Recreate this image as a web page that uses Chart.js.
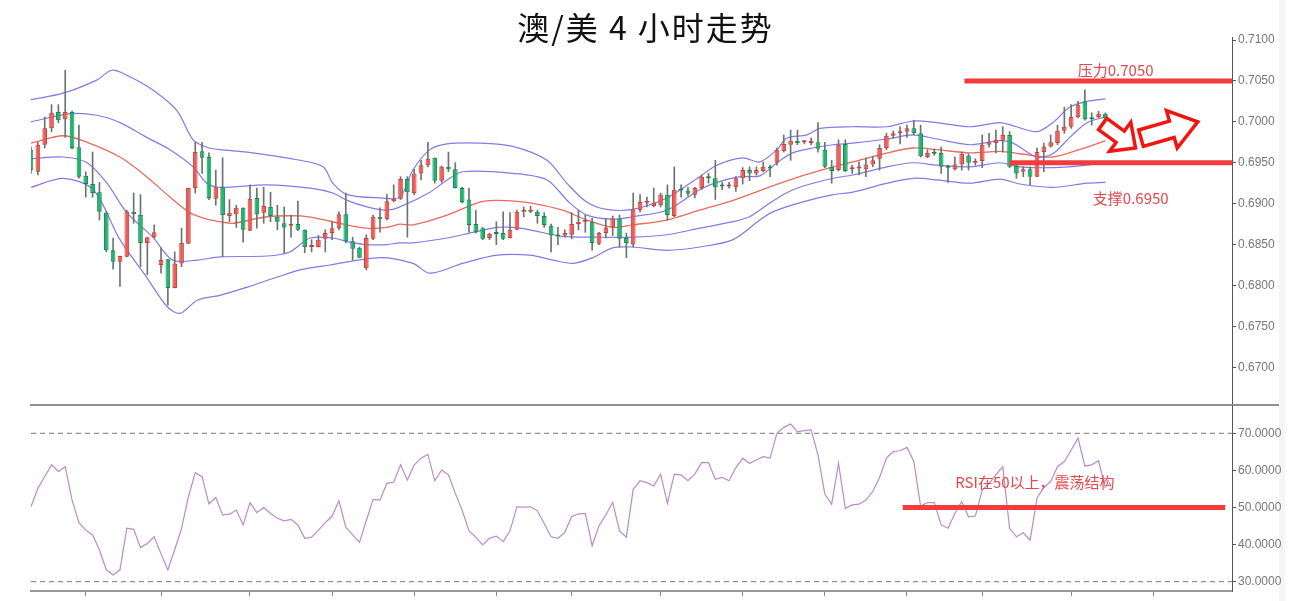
<!DOCTYPE html>
<html>
<head>
<meta charset="utf-8">
<script src="https://cdn.jsdelivr.net/npm/chart.js@4.4.1/dist/chart.umd.min.js"></script>
<style>
html, body { margin: 0; padding: 0; background: #fff; }
#wrap { position: relative; width: 1291px; height: 601px; overflow: hidden; }
#edge { position: absolute; left: 1279px; top: 0; width: 6px; height: 601px; background: #f5f5f5; }
#priceChart { position: absolute; left: 0; top: 0; }
#rsiChart { position: absolute; left: 0; top: 404px; }
</style>
</head>
<body>
<div id="wrap">
  <div id="edge"></div>
  <canvas id="priceChart" width="1291" height="404"></canvas>
  <canvas id="rsiChart" width="1291" height="197"></canvas>
</div>
<script>
// AUD/USD 4H candles, bar 0 is the first (half cut) bar on the left
const openP = [
  .6966, .6939, .6972, .6992, .7012, .7003, .7012, .6969, .6934, .6924,
  .6914, .6889, .6843, .6829, .6835, .6890, .6886, .6852, .6859, .6825,
  .6832, .6797, .6827, .6851, .6919, .6964, .6957, .6906, .6920, .6885,
  .6887, .6895, .6867, .6907, .6889, .6896, .6884, .6876, .6873, .6875,
  .6868, .6847, .6847, .6857, .6864, .6870, .6887, .6854, .6846, .6821,
  .6857, .6884, .6881, .6903, .6906, .6930, .6913, .6937, .6947, .6956,
  .6928, .6945, .6942, .6919, .6905, .6875, .6870, .6858, .6864, .6864,
  .6858, .6868, .6890, .6890, .6890, .6885, .6873, .6861, .6861, .6862,
  .6875, .6878, .6878, .6851, .6864, .6871, .6882, .6858, .6850, .6892,
  .6901, .6897, .6898, .6911, .6885, .6917, .6916, .6911, .6919, .6932,
  .6931, .6922, .6921, .6920, .6931, .6941, .6937, .6940, .6944, .6950,
  .6964, .6972, .6977, .6975, .6974, .6975, .6966, .6945, .6941, .6973,
  .6942, .6943, .6942, .6948, .6955, .6968, .6983, .6986, .6988, .6992,
  .6986, .6957, .6963, .6962, .6945, .6942, .6948, .6959, .6950, .6952,
  .6972, .6974, .6977, .6984, .6946, .6939, .6942, .6933, .6963, .6970,
  .6974, .6989, .6994, .7006, .7025, .7004, .7006, .7010
];
const highP = [
  .6969, .6975, .7006, .7021, .7021, .7063, .7013, .6996, .6939, .6963,
  .6926, .6890, .6858, .6836, .6892, .6913, .6911, .6859, .6874, .6846,
  .6832, .6841, .6870, .6919, .6975, .6975, .6962, .6941, .6956, .6905,
  .6898, .6895, .6923, .6919, .6920, .6914, .6898, .6896, .6886, .6903,
  .6868, .6856, .6861, .6868, .6878, .6890, .6913, .6859, .6847, .6862,
  .6886, .6895, .6911, .6923, .6933, .6933, .6942, .6953, .6975, .6956,
  .6946, .6963, .6950, .6920, .6919, .6892, .6871, .6864, .6878, .6890,
  .6889, .6892, .6896, .6897, .6892, .6889, .6875, .6871, .6868, .6889,
  .6892, .6886, .6882, .6865, .6882, .6885, .6886, .6864, .6913, .6911,
  .6908, .6919, .6913, .6923, .6945, .6923, .6920, .6920, .6935, .6937,
  .6953, .6926, .6926, .6933, .6944, .6945, .6945, .6951, .6947, .6968,
  .6984, .6990, .6990, .6977, .6980, .6999, .6975, .6953, .6978, .6978,
  .6947, .6951, .6956, .6958, .6972, .6986, .6989, .6994, .6996, .7002,
  .6996, .6966, .6967, .6969, .6947, .6957, .6963, .6961, .6955, .6984,
  .6986, .6990, .6994, .6988, .6947, .6945, .6945, .6968, .6974, .6984,
  .6996, .7018, .7021, .7025, .7039, .7011, .7013, .7011
];
const lowP = [
  .6937, .6935, .6968, .6988, .6999, .6981, .6967, .6931, .6908, .6908,
  .6880, .6841, .6820, .6799, .6835, .6876, .6823, .6813, .6858, .6815,
  .6776, .6797, .6823, .6851, .6913, .6937, .6905, .6898, .6835, .6878,
  .6871, .6853, .6867, .6870, .6876, .6878, .6868, .6840, .6859, .6867,
  .6840, .6841, .6847, .6841, .6856, .6868, .6852, .6831, .6834, .6819,
  .6856, .6865, .6880, .6902, .6905, .6859, .6911, .6929, .6945, .6925,
  .6926, .6939, .6919, .6901, .6865, .6864, .6856, .6856, .6850, .6856,
  .6858, .6868, .6884, .6889, .6876, .6871, .6841, .6850, .6859, .6857,
  .6868, .6865, .6843, .6850, .6858, .6861, .6847, .6834, .6847, .6890,
  .6896, .6896, .6896, .6880, .6884, .6908, .6909, .6907, .6917, .6925,
  .6905, .6917, .6919, .6915, .6924, .6928, .6935, .6939, .6933, .6947,
  .6963, .6953, .6972, .6973, .6972, .6963, .6944, .6925, .6940, .6939,
  .6937, .6935, .6933, .6945, .6941, .6966, .6980, .6973, .6981, .6984,
  .6957, .6956, .6959, .6937, .6926, .6941, .6941, .6941, .6947, .6944,
  .6969, .6962, .6963, .6944, .6931, .6933, .6923, .6933, .6939, .6969,
  .6972, .6986, .6992, .7005, .7002, .6996, .7005, .7001
];
const closeP = [
  .6941, .6972, .6992, .7011, .7002, .7012, .6968, .6933, .6924, .6913,
  .6890, .6843, .6829, .6836, .6890, .6887, .6852, .6859, .6865, .6831,
  .6797, .6827, .6852, .6919, .6963, .6956, .6907, .6920, .6886, .6889,
  .6895, .6868, .6906, .6887, .6897, .6885, .6878, .6871, .6875, .6868,
  .6847, .6848, .6856, .6864, .6870, .6887, .6854, .6845, .6834, .6858,
  .6884, .6881, .6903, .6906, .6930, .6914, .6937, .6947, .6955, .6928,
  .6945, .6942, .6919, .6902, .6874, .6865, .6857, .6863, .6863, .6857,
  .6868, .6890, .6891, .6891, .6885, .6874, .6861, .6860, .6864, .6875,
  .6878, .6879, .6852, .6864, .6871, .6882, .6857, .6852, .6893, .6902,
  .6902, .6901, .6911, .6886, .6917, .6916, .6912, .6919, .6933, .6931,
  .6920, .6921, .6922, .6931, .6941, .6937, .6941, .6945, .6943, .6966,
  .6973, .6977, .6974, .6976, .6975, .6967, .6945, .6940, .6972, .6940,
  .6943, .6944, .6948, .6953, .6968, .6983, .6986, .6988, .6992, .6986,
  .6958, .6962, .6961, .6945, .6944, .6948, .6961, .6950, .6951, .6972,
  .6975, .6978, .6984, .6945, .6937, .6942, .6933, .6963, .6970, .6975,
  .6989, .6994, .7006, .7021, .7003, .7003, .7010, .7004
];

// RSI, one value per bar
const rsiValues = [
  50.2, 55.2, 58.3, 61.5, 59.7, 61.0, 52.0, 45.9, 43.9, 42.6,
  38.6, 33.2, 31.8, 33.2, 44.4, 44.1, 39.2, 40.3, 42.1, 37.5,
  33.2, 38.6, 44.4, 52.9, 59.4, 58.3, 51.0, 52.7, 48.0, 48.2,
  49.3, 45.3, 51.3, 48.6, 50.0, 48.4, 47.1, 46.4, 46.8, 45.3,
  41.7, 42.0, 43.9, 45.9, 47.7, 51.8, 44.7, 42.6, 40.6, 46.5,
  52.2, 52.0, 56.5, 56.8, 61.5, 57.4, 61.5, 63.3, 64.3, 57.2,
  60.1, 58.8, 53.8, 49.3, 43.7, 42.0, 39.9, 41.7, 42.3, 40.8,
  43.7, 50.2, 50.1, 50.2, 49.1, 45.7, 42.1, 41.7, 43.3, 47.5,
  48.3, 48.4, 39.7, 45.1, 48.0, 51.4, 43.7, 42.0, 54.9, 57.2,
  56.7, 55.8, 59.0, 51.1, 59.0, 58.8, 57.2, 59.0, 62.1, 62.1,
  57.6, 58.1, 57.2, 60.7, 63.3, 61.9, 62.8, 63.7, 63.3, 70.0,
  71.6, 72.5, 70.4, 70.7, 70.9, 64.2, 53.6, 50.9, 61.9, 49.8,
  50.7, 50.9, 52.0, 54.3, 58.1, 63.3, 65.1, 65.3, 66.2, 62.5,
  50.4, 51.3, 51.3, 45.3, 44.4, 48.4, 51.6, 47.5, 47.7, 54.7,
  56.5, 58.8, 61.0, 44.4, 42.1, 43.2, 41.2, 52.5, 55.4, 57.0,
  61.0, 62.4, 65.5, 68.7, 61.2, 61.5, 62.6, 55.2
];

// Bollinger bands as [bar index, price]
const bandOuterUp = [
  [0, .7027], [4.7, .7035], [9.6, .7051], [11.8, .7063], [14.0, .7057], [17.8, .7039],
  [21.3, .7014], [23.7, .6978], [25.7, .6969], [27.6, .6966], [31.6, .6963], [39.3, .6953],
  [42.7, .6945], [44.1, .6925], [46.2, .6911], [51.0, .6907], [53.9, .6908], [55.8, .6941],
  [58.3, .6966], [60.8, .6973], [65.6, .6974], [70.4, .6970], [75.4, .6953], [78.3, .6925],
  [81.2, .6902], [84.1, .6893], [87.9, .6893], [92.9, .6907], [97.7, .6933], [100.2, .6947],
  [104.0, .6956], [106.5, .6951], [109.0, .6966], [110.4, .6980], [113.4, .6984], [115.3, .6992],
  [120.1, .6994], [125.1, .6994], [128.9, .7001], [132.4, .6999], [137.2, .6994], [141.6, .6999],
  [144.0, .6994], [147.0, .6988], [149.3, .6999], [151.8, .7018], [154.3, .7025], [157.0, .7028]
];
const bandInnerUp = [
  [0, .7000], [5.7, .7010], [9.6, .7008], [13.0, .6999], [16.9, .6981], [20.3, .6966],
  [23.7, .6945], [25.7, .6925], [27.6, .6920], [34.5, .6923], [40.8, .6919], [44.1, .6913],
  [46.2, .6904], [49.1, .6896], [52.0, .6892], [53.9, .6896], [58.3, .6914], [60.8, .6929],
  [63.1, .6939], [70.4, .6937], [75.4, .6929], [78.7, .6901], [81.2, .6886], [85.0, .6881],
  [87.9, .6884], [92.9, .6892], [97.7, .6917], [100.2, .6926], [103.6, .6933], [106.5, .6934],
  [109.0, .6950], [111.3, .6962], [114.2, .6968], [117.2, .6972], [120.1, .6974], [125.1, .6979],
  [128.9, .6984], [132.4, .6979], [137.2, .6972], [141.6, .6977], [143.5, .6974], [147.0, .6957],
  [149.3, .6961], [151.8, .6981], [154.3, .6999], [157.0, .7006]
];
const bandMiddle = [
  [0, .6974], [4.7, .6983], [8.2, .6975], [13.0, .6957], [16.9, .6933], [20.3, .6908],
  [23.2, .6889], [25.7, .6881], [27.6, .6878], [29.5, .6876], [34.5, .6884], [39.3, .6885],
  [41.8, .6882], [45.1, .6876], [49.1, .6870], [52.0, .6871], [53.9, .6875], [55.8, .6874],
  [60.8, .6886], [65.6, .6902], [68.1, .6904], [72.9, .6901], [77.7, .6892], [81.2, .6880],
  [85.0, .6871], [87.9, .6874], [92.9, .6880], [97.7, .6892], [102.6, .6904], [107.5, .6919],
  [112.3, .6933], [117.2, .6945], [120.1, .6951], [125.1, .6962], [128.9, .6968], [132.4, .6966],
  [137.2, .6962], [141.6, .6964], [144.5, .6961], [149.3, .6957], [153.2, .6966], [157.0, .6977]
];
const bandInnerLow = [
  [0, .6955], [4.7, .6957], [8.2, .6950], [11.1, .6925], [14.0, .6889], [17.8, .6859],
  [20.7, .6831], [24.3, .6831], [27.6, .6835], [34.5, .6836], [37.8, .6841], [40.8, .6858],
  [44.1, .6858], [46.6, .6853], [49.1, .6850], [52.0, .6850], [53.9, .6852], [55.8, .6852],
  [60.8, .6858], [64.6, .6865], [68.1, .6871], [70.4, .6871], [72.9, .6868], [77.7, .6860],
  [82.7, .6859], [87.9, .6859], [92.9, .6862], [97.7, .6870], [102.6, .6878], [105.0, .6884],
  [107.5, .6898], [109.9, .6911], [112.3, .6920], [117.2, .6931], [120.1, .6935], [125.1, .6945],
  [128.9, .6950], [132.4, .6947], [137.2, .6945], [141.6, .6950], [144.5, .6945], [149.3, .6944],
  [154.3, .6947], [157.0, .6951]
];
const bandOuterLow = [
  [0, .6920], [4.7, .6931], [9.1, .6917], [13.0, .6856], [16.9, .6810], [19.9, .6774],
  [21.8, .6766], [24.3, .6782], [27.6, .6788], [31.6, .6798], [35.9, .6810], [39.3, .6819],
  [43.7, .6825], [51.0, .6834], [55.8, .6827], [58.3, .6815], [63.1, .6827], [68.1, .6837],
  [72.9, .6837], [76.3, .6831], [79.2, .6827], [82.1, .6834], [85.0, .6846], [87.9, .6847],
  [92.9, .6843], [97.7, .6847], [102.6, .6856], [106.5, .6880], [108.4, .6890], [112.3, .6901],
  [117.2, .6911], [120.1, .6914], [125.1, .6925], [128.9, .6931], [132.4, .6929], [137.2, .6925],
  [141.6, .6930], [144.5, .6924], [149.3, .6920], [154.3, .6925], [157.0, .6926]
];

// key levels: [first bar index, last bar index, value]
const resistanceLine = [136.4, 175.5, 0.7050];
const supportLine = [143.0, 175.5, 0.6950];
const rsiMidLine = [127.4, 174.5, 50];
const rsiBounds = [70, 30];

// axis ticks
const priceTicks = [0.6700, 0.6750, 0.6800, 0.6850, 0.6900, 0.6950, 0.7000, 0.7050, 0.7100];
const rsiTicks = [30, 40, 50, 60, 70];
const timeTicks = [8, 19, 32, 44, 56, 68, 79, 92, 104, 116, 128, 139, 152, 164];

const X_MAX = 175.5;
const UP_FILL = '#ef5b56', UP_LINE = '#c9403b';
const DOWN_FILL = '#1fb46f', DOWN_LINE = '#11874f';
const BAND_BLUE = '#8479e6';
const LEVEL_RED = '#f23b3b';
const NOTE_RED = '#e5484d';
const TICK_FONT = { family: '"Liberation Sans", Arial, sans-serif', size: 12 };

const pts = arr => arr.map(([x, y]) => ({ x, y }));
const level = ([from, to, v]) => [{ x: from, y: v }, { x: to, y: v }];

function bandSet(data, color, width) {
  return { type: 'line', data: pts(data), borderColor: color, borderWidth: width,
    pointRadius: 0, tension: 0.3, fill: false, order: 3 };
}

function drawArrow(ctx, x0, y0, x1, y1, shaftW, headW, headL) {
  const ang = Math.atan2(y1 - y0, x1 - x0);
  const len = Math.hypot(x1 - x0, y1 - y0);
  ctx.save();
  ctx.translate(x0, y0);
  ctx.rotate(ang);
  ctx.beginPath();
  ctx.moveTo(0, -shaftW / 2);
  ctx.lineTo(len - headL, -shaftW / 2);
  ctx.lineTo(len - headL, -headW / 2);
  ctx.lineTo(len, 0);
  ctx.lineTo(len - headL, headW / 2);
  ctx.lineTo(len - headL, shaftW / 2);
  ctx.lineTo(0, shaftW / 2);
  ctx.closePath();
  ctx.fillStyle = '#fff';
  ctx.fill();
  ctx.lineWidth = 3.5;
  ctx.lineJoin = 'miter';
  ctx.strokeStyle = '#f2140f';
  ctx.stroke();
  ctx.restore();
}

// notes, arrows and title on the price panel
const priceNotes = {
  id: 'priceNotes',
  afterDatasetsDraw(chart) {
    const { ctx, scales: { x, y } } = chart;
    ctx.save();
    ctx.fillStyle = NOTE_RED;
    ctx.font = '15px "Noto Sans CJK SC", sans-serif';
    ctx.textAlign = 'center';
    ctx.textBaseline = 'middle';
    ctx.fillText('压力0.7050', x.getPixelForValue(158.5), y.getPixelForValue(0.7063));
    ctx.fillText('支撑0.6950', x.getPixelForValue(160.7), y.getPixelForValue(0.6906));
    ctx.restore();
    drawArrow(ctx, x.getPixelForValue(156.6), y.getPixelForValue(0.69974),
      x.getPixelForValue(161.4), y.getPixelForValue(0.6968), 14, 36, 19);
    drawArrow(ctx, x.getPixelForValue(162.2), y.getPixelForValue(0.6980),
      x.getPixelForValue(170.5), y.getPixelForValue(0.7000), 17, 39, 27);
  },
  afterDraw(chart) {
    const ctx = chart.ctx;
    ctx.save();
    ctx.fillStyle = '#111';
    ctx.font = '32px "Noto Sans CJK SC", sans-serif';
    ctx.letterSpacing = '2px';
    ctx.textAlign = 'center';
    ctx.textBaseline = 'middle';
    ctx.fillText('澳/美 4 小时走势', chart.width / 2, 28);
    ctx.restore();
  }
};

const rsiNotes = {
  id: 'rsiNotes',
  beforeDraw(chart) {
    const { ctx, chartArea } = chart;
    ctx.save();
    ctx.strokeStyle = '#8f8f8f';
    ctx.lineWidth = 2;
    ctx.beginPath();
    ctx.moveTo(chartArea.left - 1, 1);
    ctx.lineTo(chart.width - 12, 1);
    ctx.stroke();
    ctx.restore();
  },
  afterDatasetsDraw(chart) {
    const { ctx, scales: { x, y } } = chart;
    ctx.save();
    ctx.fillStyle = NOTE_RED;
    ctx.font = '15px "Noto Sans CJK SC", sans-serif';
    ctx.textAlign = 'center';
    ctx.textBaseline = 'middle';
    ctx.fillText('RSI在50以上，震荡结构', x.getPixelForValue(146.7), y.getPixelForValue(56.9));
    ctx.restore();
  }
};

// fixed axis width, and no extra label padding so the plot fills the panel
const fixedWidth = s => { s.width = 59; s.paddingTop = 0; s.paddingBottom = 0; };

// price panel
new Chart(document.getElementById('priceChart'), {
  type: 'bar',
  data: {
    datasets: [
      { type: 'line', data: level(resistanceLine), borderColor: LEVEL_RED, borderWidth: 5,
        pointRadius: 0, order: 0 },
      { type: 'line', data: level(supportLine), borderColor: LEVEL_RED, borderWidth: 5,
        pointRadius: 0, order: 0 },
      {
        label: 'body',
        data: openP.map((o, i) => ({ x: i, y: [o, closeP[i]] })),
        backgroundColor: c => closeP[c.dataIndex] >= openP[c.dataIndex] ? UP_FILL : DOWN_FILL,
        borderColor: c => closeP[c.dataIndex] >= openP[c.dataIndex] ? UP_LINE : DOWN_LINE,
        borderWidth: 1,
        borderSkipped: false,
        minBarLength: 2,
        grouped: false,
        barPercentage: 0.85,
        categoryPercentage: 0.8,
        order: 1
      },
      {
        label: 'wick',
        data: lowP.map((l, i) => ({ x: i, y: [l, highP[i]] })),
        backgroundColor: '#6d7470',
        barThickness: 1,
        grouped: false,
        order: 2
      },
      bandSet(bandOuterUp, BAND_BLUE, 1.2),
      bandSet(bandInnerUp, BAND_BLUE, 1.2),
      bandSet(bandMiddle, '#ea6a5c', 1.3),
      bandSet(bandInnerLow, BAND_BLUE, 1.2),
      bandSet(bandOuterLow, BAND_BLUE, 1.2)
    ]
  },
  options: {
    responsive: false,
    animation: false,
    events: [],
    layout: { padding: { left: 31, top: 37, right: 0, bottom: 0 } },
    plugins: { legend: { display: false }, tooltip: { enabled: false } },
    scales: {
      x: { type: 'linear', min: 0, max: X_MAX, offset: false, display: false },
      y: {
        position: 'right',
        min: 0.665515,
        max: 0.710367,
        afterFit: fixedWidth,
        afterBuildTicks: s => { s.ticks = priceTicks.map(v => ({ value: v })); },
        ticks: { color: '#777', font: TICK_FONT, padding: 2, callback: v => v.toFixed(4) },
        grid: { drawOnChartArea: false, tickLength: 4, tickColor: '#555' },
        border: { color: '#555', width: 1 }
      }
    }
  },
  plugins: [priceNotes]
});

// RSI panel
new Chart(document.getElementById('rsiChart'), {
  type: 'line',
  data: {
    datasets: [
      { data: level(rsiMidLine), borderColor: LEVEL_RED, borderWidth: 5, pointRadius: 0, order: 0 },
      { data: rsiValues.map((v, i) => ({ x: i, y: v })), borderColor: '#b98bc9', borderWidth: 1.2,
        pointRadius: 0, tension: 0, order: 1 },
      { data: level([0, X_MAX, rsiBounds[0]]), borderColor: '#777', borderWidth: 1,
        borderDash: [5, 4], pointRadius: 0, order: 2 },
      { data: level([0, X_MAX, rsiBounds[1]]), borderColor: '#777', borderWidth: 1,
        borderDash: [5, 4], pointRadius: 0, order: 2 }
    ]
  },
  options: {
    responsive: false,
    animation: false,
    events: [],
    layout: { padding: { left: 31, top: 1, right: 0, bottom: 0 } },
    plugins: { legend: { display: false }, tooltip: { enabled: false } },
    scales: {
      x: {
        type: 'linear', min: 0, max: X_MAX, offset: false,
        afterFit: s => { s.height = 10; s.paddingLeft = 0; s.paddingRight = 0; },
        afterBuildTicks: s => { s.ticks = timeTicks.map(v => ({ value: v })); },
        ticks: { display: false },
        grid: { drawOnChartArea: false, tickLength: 5, tickColor: '#888' },
        border: { color: '#999', width: 2 }
      },
      y: {
        position: 'right',
        min: 27.49,
        max: 77.63,
        afterFit: fixedWidth,
        afterBuildTicks: s => { s.ticks = rsiTicks.map(v => ({ value: v })); },
        ticks: { color: '#777', font: TICK_FONT, padding: 2, callback: v => v.toFixed(4) },
        grid: { drawOnChartArea: false, tickLength: 4, tickColor: '#555' },
        border: { color: '#555', width: 1 }
      }
    }
  },
  plugins: [rsiNotes]
});
</script>
</body>
</html>
